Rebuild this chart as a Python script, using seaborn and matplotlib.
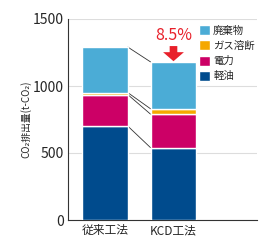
import matplotlib
matplotlib.use("Agg")
import matplotlib.pyplot as plt
import seaborn as sns
import numpy as np
import pandas as pd

methods = ["従来工法", "KCD工法"]
series_names = ["軽油", "電力", "ガス溶断", "廃棄物"]
diesel = [700, 540]
electric = [235, 250]
gas = [15, 40]
waste = [340, 350]
colors = ["#004B8D", "#CC0066", "#F5A800", "#4BACD6"]
reduction_label = "8.5%"
yticks = [0, 500, 1000, 1500]

sns.set_theme(style="white")
plt.rcParams['font.family'] = ['Noto Sans CJK JP', 'DejaVu Sans']

fig = plt.figure(figsize=(2.75, 2.5), dpi=100)
ax = fig.add_axes([0.247, 0.12, 0.688, 0.804])

values = [diesel, electric, gas, waste]
bottom = np.zeros(len(methods))
tops = []
for name, vals, col in zip(series_names, values, colors):
    df = pd.DataFrame({"m": methods, "v": vals})
    sns.barplot(data=df, x="m", y="v", color=col, width=0.67, ax=ax,
                label=name, saturation=1, zorder=3, bottom=bottom)
    bottom = bottom + np.array(vals)
    tops.append(bottom.copy())

# connecting lines
for t in tops:
    ax.plot([0 + 0.335, 1 - 0.335], [t[0], t[1]], color="#333333", lw=0.6, zorder=2)

ax.set_xlim(-0.54, 2.22)
ax.set_ylim(0, 1500)
ax.set_xlabel("")
ax.set_yticks(yticks)
ax.set_yticklabels([str(v) for v in yticks], fontsize=10)
ax.set_xticks([0, 1])
ax.set_xticklabels(methods, fontsize=8.5)
ax.tick_params(axis="both", length=0, pad=3)
ax.yaxis.grid(True, color="#dddddd", lw=0.8, zorder=0)
ax.set_axisbelow(True)
for s in ["top", "right"]:
    ax.spines[s].set_visible(False)
for s in ["left", "bottom"]:
    ax.spines[s].set_color("#333333")
    ax.spines[s].set_linewidth(0.8)
ax.set_ylabel("CO₂排出量(t-CO₂)", fontsize=7, labelpad=1)

# arrow and reduction label
total_new = tops[-1][1]
ax.annotate("", xy=(1, total_new + 5), xytext=(1, total_new + 118),
            arrowprops=dict(width=5.5, headwidth=15, headlength=6.5, shrink=0,
                            color="#E8202A", lw=0))
ax.text(1, total_new + 130, reduction_label, color="#E8202A", fontsize=11.5,
        ha="center", va="bottom")

handles, labels = ax.get_legend_handles_labels()
leg = ax.legend(handles[::-1], labels[::-1], loc="upper right", bbox_to_anchor=(1.02, 1.0),
                frameon=False, fontsize=7.5, handlelength=1.1, handleheight=1.1,
                handletextpad=0.3, labelspacing=0.45, borderaxespad=0.2)

fig.savefig("out.png", dpi=100)
